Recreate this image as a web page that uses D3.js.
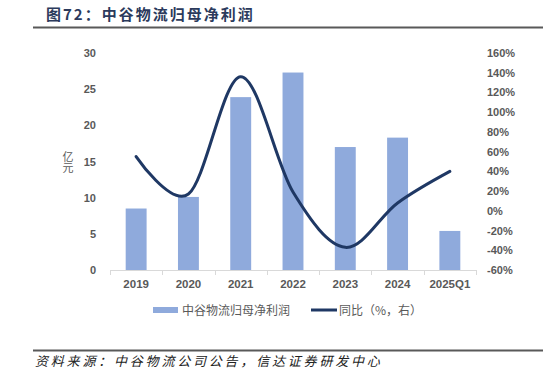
<!DOCTYPE html>
<html>
<head>
<meta charset="utf-8">
<script src="https://cdn.jsdelivr.net/npm/d3@7"></script>
<style>
  body { margin: 0; background: #fff; }
  svg { display: block; font-family: "Liberation Sans", Arial, "Noto Sans CJK SC", sans-serif; }
</style>
</head>
<body>
<div id="chart"></div>
<script>
const width = 543
const height = 376

// data
const categories = ["2019", "2020", "2021", "2022", "2023", "2024", "2025Q1"]
const profit = [8.5, 10.1, 23.9, 27.3, 17.0, 18.3, 5.4]      // 亿元
const yoy = [55, 17, 136, 19, -37, 8, 40]                    // %
const leftTicks = [0, 5, 10, 15, 20, 25, 30]
const rightTicks = [-60, -40, -20, 0, 20, 40, 60, 80, 100, 120, 140, 160]

const barColor = "#8faadc"
const lineColor = "#1f3864"
const textGrey = "#595959"

let svg = d3.select("#chart")
            .append("svg")
            .attr("width", width)
            .attr("height", height)

// title + rule lines
svg.append("text")
   .attr("x", 46)
   .attr("y", 20)
   .attr("fill", "#2b3a5c")
   .attr("font-size", 15)
   .attr("font-weight", "bold")
   .attr("letter-spacing", 2)
   .style("font-family", "'Noto Sans CJK SC', sans-serif")
   .text("图72：中谷物流归母净利润")

svg.append("line")
   .attr("x1", 33).attr("x2", 543)
   .attr("y1", 27.5).attr("y2", 27.5)
   .attr("stroke", "#595959")
   .attr("stroke-width", 2)

svg.append("line")
   .attr("x1", 33).attr("x2", 543)
   .attr("y1", 350.5).attr("y2", 350.5)
   .attr("stroke", "#595959")
   .attr("stroke-width", 2)

svg.append("text")
   .attr("x", 35)
   .attr("y", 366)
   .attr("fill", "#222")
   .attr("font-size", 13)
   .attr("letter-spacing", 2.8)
   .attr("font-style", "italic")
   .style("font-family", "'Noto Sans CJK SC', sans-serif")
   .text("资料来源：中谷物流公司公告，信达证券研发中心")

// scales
let x = d3.scaleBand()
          .domain(categories)
          .range([110, 476])
          .paddingInner(0.6)
          .paddingOuter(0.3)

let xPoint = d => x(d) + x.bandwidth() / 2

let yLeft = d3.scaleLinear().domain([0, 30]).range([270, 53])
let yRight = d3.scaleLinear().domain([-60, 160]).range([270, 53])

// bars
svg.append("g")
   .selectAll("rect")
   .data(categories)
   .enter()
   .append("rect")
   .attr("x", d => x(d))
   .attr("width", x.bandwidth())
   .attr("y", (d, i) => yLeft(profit[i]))
   .attr("height", (d, i) => yLeft(0) - yLeft(profit[i]))
   .attr("fill", barColor)

// x axis
let xAxisLine = svg.append("g")
xAxisLine.append("line")
   .attr("x1", 110).attr("x2", 476)
   .attr("y1", 270.5).attr("y2", 270.5)
   .attr("stroke", "#d9d9d9")
let step = x.step()
let bounds = categories.map(d => xPoint(d) - step / 2).concat([xPoint(categories[categories.length - 1]) + step / 2])
xAxisLine.selectAll(".tk")
   .data(bounds)
   .enter()
   .append("line")
   .attr("x1", d => Math.round(d) + 0.5).attr("x2", d => Math.round(d) + 0.5)
   .attr("y1", 270).attr("y2", 275)
   .attr("stroke", "#d9d9d9")

svg.append("g")
   .selectAll("text")
   .data(categories)
   .enter()
   .append("text")
   .attr("x", d => xPoint(d))
   .attr("y", 288)
   .attr("text-anchor", "middle")
   .attr("fill", textGrey)
   .attr("font-size", 11.5)
   .attr("font-weight", "bold")
   .text(d => d)

// left axis
let leftAxis = svg.append("g")
   .attr("transform", "translate(96,0)")
   .call(d3.axisLeft(yLeft).tickValues(leftTicks).tickSize(0).tickPadding(0))
leftAxis.select(".domain").remove()
leftAxis.selectAll("text")
   .attr("fill", textGrey)
   .attr("font-size", 11)
   .attr("font-weight", "bold")
   .style("font-family", "'Liberation Sans', Arial, sans-serif")

// right axis
let rightAxis = svg.append("g")
   .attr("transform", "translate(487,0)")
   .call(d3.axisRight(yRight).tickValues(rightTicks).tickSize(0).tickPadding(0).tickFormat(d => d + "%"))
rightAxis.select(".domain").remove()
rightAxis.selectAll("text")
   .attr("fill", textGrey)
   .attr("font-size", 11)
   .attr("font-weight", "bold")
   .style("font-family", "'Liberation Sans', Arial, sans-serif")

// unit label, written vertically
svg.append("text")
   .attr("x", 68)
   .attr("y", 151)
   .attr("fill", textGrey)
   .attr("font-size", 11)
   .style("writing-mode", "vertical-rl")
   .style("font-family", "'Noto Sans CJK SC', sans-serif")
   .text("亿元")

// yoy line
let line = d3.line()
   .x((d, i) => xPoint(categories[i]))
   .y(d => yRight(d))
   .curve(d3.curveCardinal.tension(0))

svg.append("path")
   .datum(yoy)
   .attr("d", line)
   .attr("fill", "none")
   .attr("stroke", lineColor)
   .attr("stroke-width", 3)
   .attr("stroke-linecap", "round")

// legend
let legend = svg.append("g")
   .style("font-family", "'Noto Sans CJK SC', sans-serif")
legend.append("rect")
   .attr("x", 153).attr("y", 307)
   .attr("width", 25).attr("height", 6)
   .attr("fill", barColor)
legend.append("text")
   .attr("x", 182).attr("y", 314.5)
   .attr("fill", textGrey)
   .attr("font-size", 12)
   .text("中谷物流归母净利润")
legend.append("line")
   .attr("x1", 311).attr("x2", 337)
   .attr("y1", 310).attr("y2", 310)
   .attr("stroke", lineColor)
   .attr("stroke-width", 3)
legend.append("text")
   .attr("x", 339).attr("y", 314.5)
   .attr("fill", textGrey)
   .attr("font-size", 12)
   .text("同比（%，右）")
</script>
</body>
</html>
